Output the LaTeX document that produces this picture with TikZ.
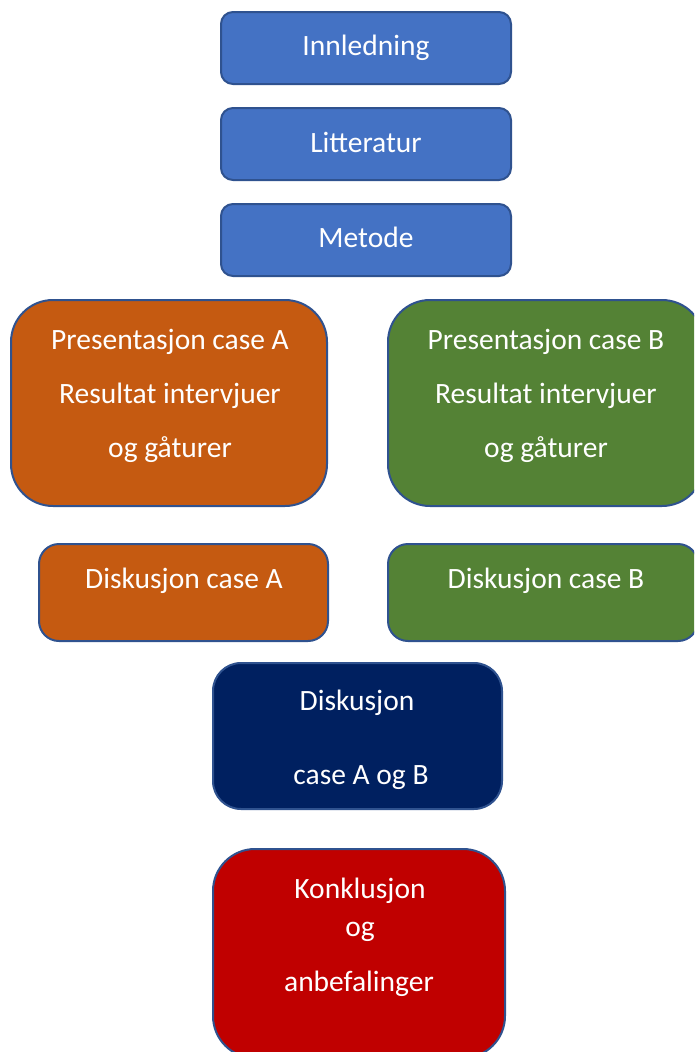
\documentclass[tikz,border=0pt]{standalone}
\usepackage{fontspec}
\setmainfont{Carlito}
\definecolor{bordc}{HTML}{2F528F}
\definecolor{cblue}{HTML}{4472C4}
\definecolor{corange}{HTML}{C55A11}
\definecolor{cgreen}{HTML}{548235}
\definecolor{cnavy}{HTML}{002060}
\definecolor{cred}{HTML}{C00000}
\tikzset{
  boxbase/.style={draw=bordc, line width=2pt, rectangle, inner sep=0pt},
  lbl/.style={text=white, anchor=base, inner sep=0pt, font=\fontsize{29.5}{35}\selectfont}
}
\begin{document}
\begin{tikzpicture}[x=1pt,y=-1pt]
\useasboundingbox (0,0) rectangle (694,1052);
\clip (0,0) rectangle (694,1052);
% boxes: corner rectangles
\node[boxbase, fill=cblue, rounded corners=12pt, minimum width=290pt, minimum height=72pt] (inn) at (366,48) {};
\node[boxbase, fill=cblue, rounded corners=12pt, minimum width=290pt, minimum height=72pt] (lit) at (366,144) {};
\node[boxbase, fill=cblue, rounded corners=12pt, minimum width=290pt, minimum height=72pt] (met) at (366,240) {};
\node[boxbase, fill=corange, rounded corners=42pt, minimum width=316pt, minimum height=206pt] (presA) at (169,403) {};
\node[boxbase, fill=cgreen, rounded corners=42pt, minimum width=316pt, minimum height=206pt] (presB) at (546,403) {};
\node[boxbase, fill=corange, rounded corners=20pt, minimum width=289pt, minimum height=97pt] (diskA) at (183.5,592.5) {};
\node[boxbase, fill=cgreen, rounded corners=20pt, minimum width=310pt, minimum height=97pt] (diskB) at (543,592.5) {};
\node[boxbase, fill=cnavy, rounded corners=28pt, minimum width=289pt, minimum height=146pt] (diskAB) at (357.5,736) {};
\node[boxbase, fill=cred, rounded corners=42pt, minimum width=292pt, minimum height=209pt] (konk) at (359,953.5) {};
% labels
\node[lbl] (tinn) at (366,55) {Innledning};
\node[lbl] (tlit) at (366,152) {Litteratur};
\node[lbl] (tmet) at (366,247) {Metode};
\node[lbl] (tpa1) at (170,349) {Presentasjon case A};
\node[lbl] (tpa2) at (170,403) {Resultat intervjuer};
\node[lbl] (tpa3) at (170,457) {og gåturer};
\node[lbl] (tpb1) at (546,349) {Presentasjon case B};
\node[lbl] (tpb2) at (546,403) {Resultat intervjuer};
\node[lbl] (tpb3) at (546,457) {og gåturer};
\node[lbl] (tda) at (184,588) {Diskusjon case A};
\node[lbl] (tdb) at (546,588) {Diskusjon case B};
\node[lbl] (tdab1) at (357,710) {Diskusjon};
\node[lbl] (tdab2) at (361,784) {case A og B};
\node[lbl] (tk1) at (360,898) {Konklusjon};
\node[lbl] (tk2) at (360,936) {og};
\node[lbl] (tk3) at (359,991) {anbefalinger};
\end{tikzpicture}
\end{document}
